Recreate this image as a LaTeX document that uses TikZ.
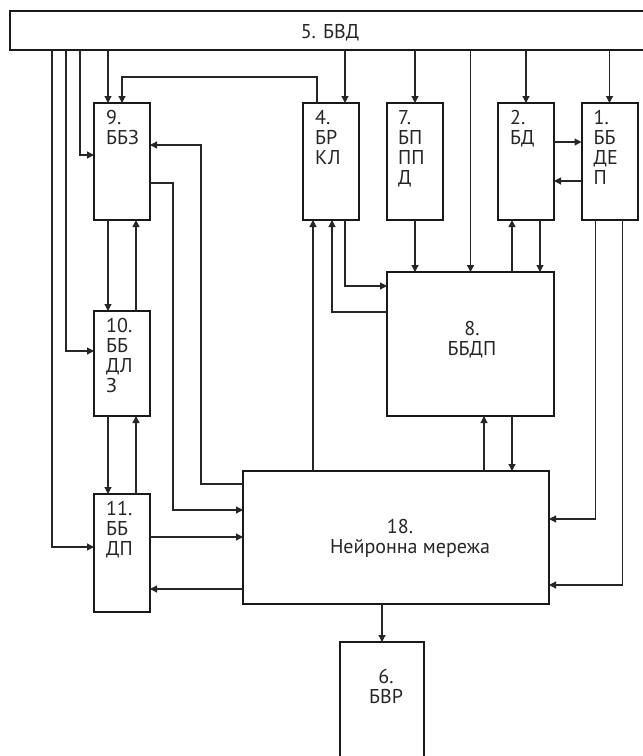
\documentclass[tikz,border=0pt]{standalone}
\usepackage{fontspec}
\setmainfont{PT Sans}
\usetikzlibrary{arrows.meta,calc}
\newcommand{\blkL}[1]{\begin{tabular}[t]{@{}l@{}}#1\end{tabular}}
\newcommand{\blkC}[1]{\begin{tabular}[t]{@{}c@{}}#1\end{tabular}}
\begin{document}
\begin{tikzpicture}[x=1pt,y=-1pt,
  box/.style={draw=black!90,line width=2pt,fill=white,inner sep=0pt,outer sep=0pt},
  arr/.style={draw=black!85,line width=1.2pt,-{Triangle[length=7pt,width=7pt]}},
  ln/.style={draw=black!85,line width=1.2pt},
  lbl/.style={inner sep=0pt,text=black!85,font=\fontsize{20}{20}\selectfont}]
\useasboundingbox (0,0) rectangle (643,756);
\clip (0,0) rectangle (643,756);
% blocks
\node[box,minimum width=650,minimum height=39] (bar) at (335,30.5) {};
\node[box,minimum width=56,minimum height=117] (b9) at (122,161.5) {};
\node[box,minimum width=56,minimum height=117] (b4) at (331,161.5) {};
\node[box,minimum width=56,minimum height=117] (b7) at (415,161.5) {};
\node[box,minimum width=56,minimum height=117] (b2) at (526,161.5) {};
\node[box,minimum width=56,minimum height=117] (b1) at (609.5,161.5) {};
\node[box,minimum width=56,minimum height=105] (b10) at (122,363.5) {};
\node[box,minimum width=56,minimum height=118] (b11) at (122,553) {};
\node[box,minimum width=167,minimum height=144] (b8) at (470.5,344) {};
\node[box,minimum width=306,minimum height=133] (b18) at (396,537.5) {};
\node[box,minimum width=84,minimum height=138] (b6) at (382,711) {};
% labels
\node[lbl,anchor=base] (t5) at ($(bar.north west)+(320,27)$) {5. БВД};
\node[lbl,anchor=base west] (t9) at ($(b9.north west)+(12,21)$) {\blkL{9.\\ББЗ}};
\node[lbl,anchor=base west] (t4) at ($(b4.north west)+(12,21)$) {\blkL{4.\\БР\\КЛ}};
\node[lbl,anchor=base west] (t7) at ($(b7.north west)+(11,21)$) {\blkL{7.\\БП\\ПП\\Д}};
\node[lbl,anchor=base west] (t2) at ($(b2.north west)+(12,21)$) {\blkL{2.\\БД}};
\node[lbl,anchor=base west] (t1) at ($(b1.north west)+(12,21)$) {\blkL{1.\\ББ\\ДЕ\\П}};
\node[lbl,anchor=base west] (t10) at ($(b10.north west)+(12,21)$) {\blkL{10.\\ББ\\ДЛ\\З}};
\node[lbl,anchor=base west] (t11) at ($(b11.north west)+(12,21)$) {\blkL{11.\\ББ\\ДП}};
\node[lbl,anchor=base] (t8) at ($(b8.north west)+(85,63)$) {\blkC{8.\\ББДП}};
\node[lbl,anchor=base] (t18a) at ($(b18.north west)+(157,62)$) {18.};
\node[lbl,anchor=base] (t18b) at ($(b18.north west)+(167,82)$) {Нейронна мережа};
\node[lbl,anchor=base] (t6) at ($(b6.north west)+(46,41)$) {\blkC{6.\\БВР}};
% helper coordinates
\coordinate (s52) at ($(bar.south west)+(42,0)$);
\coordinate (s66) at ($(bar.south west)+(56,0)$);
\coordinate (s80) at ($(bar.south west)+(70,0)$);
\coordinate (i11) at ($(b11.north west)+(0,53)$);
\coordinate (i10) at ($(b10.north west)+(0,40)$);
\coordinate (i9) at ($(b9.north west)+(0,52)$);
\coordinate (p9a) at ($(b9.north west)+(14,0)$);
\coordinate (p4a) at ($(b4.north west)+(14,0)$);
\coordinate (p4b) at ($(b4.north)+(14,0)$);
\coordinate (q21) at ($(b2.north east)+(0,39)$);
\coordinate (q12) at ($(b2.north east)+(0,78)$);
\coordinate (q189) at ($(b18.north west)+(0,13)$);
\coordinate (q9r) at ($(b9.north east)+(0,42)$);
\coordinate (q9o) at ($(b9.north east)+(0,80)$);
\coordinate (q18i) at ($(b18.north west)+(0,39)$);
\coordinate (d9) at ($(b9.south west)+(14,0)$);
\coordinate (u10) at ($(b10.north west)+(42,0)$);
\coordinate (d10) at ($(b10.south west)+(14,0)$);
\coordinate (u11) at ($(b11.north west)+(42,0)$);
\coordinate (q11o) at ($(b11.north east)+(0,43)$);
\coordinate (q11i) at ($(b11.north east)+(0,95)$);
\coordinate (u4a) at ($(b4.south west)+(10,0)$);
\coordinate (q8l) at ($(b8.north west)+(0,40)$);
\coordinate (u4b) at ($(b4.south west)+(29,0)$);
\coordinate (d4) at ($(b4.south west)+(42,0)$);
\coordinate (q8i) at ($(b8.north west)+(0,14)$);
\coordinate (u2) at ($(b2.south west)+(14,0)$);
\coordinate (d2) at ($(b2.south west)+(42,0)$);
\coordinate (u8) at ($(b8.south west)+(97,0)$);
\coordinate (d8) at ($(b8.south west)+(125,0)$);
\coordinate (d1a) at ($(b1.south west)+(14,0)$);
\coordinate (d1b) at ($(b1.south west)+(41,0)$);
\coordinate (q18a) at ($(b18.north east)+(0,48)$);
\coordinate (q18b) at ($(b18.north east)+(0,114)$);
% connectors from 5
\draw[arr] (s52) |- (i11);
\draw[arr] (s66) |- (i10);
\draw[arr] (s80) |- (i9);
\draw[arr] (p9a |- bar.south) -- (p9a);
\draw[arr] (p4b |- bar.south) -- (p4b);
\draw[arr] (b7.north |- bar.south) -- (b7.north);
\draw[arr] (b8.north |- bar.south) -- (b8.north);
\draw[arr] (b2.north |- bar.south) -- (b2.north);
\draw[arr] (b1.north |- bar.south) -- (b1.north);
% 4 -> 9
\draw[arr] (p4a) -- ++(0,-26) -| (b9.north);
% 2 <-> 1
\draw[arr] (q21) -- (q21 -| b1.west);
\draw[arr] (q12 -| b1.west) -- (q12);
% 18 -> 9, 9 -> 18
\draw[arr] (q189) -- ++(-42,0) |- (q9r);
\draw[arr] (q9o) -- ++(23,0) |- (q18i);
% 9 <-> 10 <-> 11
\draw[arr] (d9) -- (d9 |- b10.north);
\draw[arr] (u10) -- (u10 |- b9.south);
\draw[arr] (d10) -- (d10 |- b11.north);
\draw[arr] (u11) -- (u11 |- b10.south);
% 11 <-> 18
\draw[arr] (q11o) -- (q11o -| b18.west);
\draw[arr] (q11i -| b18.west) -- (q11i);
% 4 <-> 8, 18 -> 4
\draw[arr] (u4a |- b18.north) -- (u4a);
\draw[arr] (q8l) -| (u4b);
\draw[arr] (d4) |- (q8i);
% 7 -> 8
\draw[arr] (b7.south) -- (b7.south |- b8.north);
% 2 <-> 8
\draw[arr] (u2 |- b8.north) -- (u2);
\draw[arr] (d2) -- (d2 |- b8.north);
% 8 <-> 18
\draw[arr] (u8 |- b18.north) -- (u8);
\draw[arr] (d8) -- (d8 |- b18.north);
% 1 -> 18
\draw[arr] (d1a) |- (q18a);
\draw[arr] (d1b) |- (q18b);
% 18 -> 6
\draw[arr] (b6.north |- b18.south) -- (b6.north);
\end{tikzpicture}
\end{document}
